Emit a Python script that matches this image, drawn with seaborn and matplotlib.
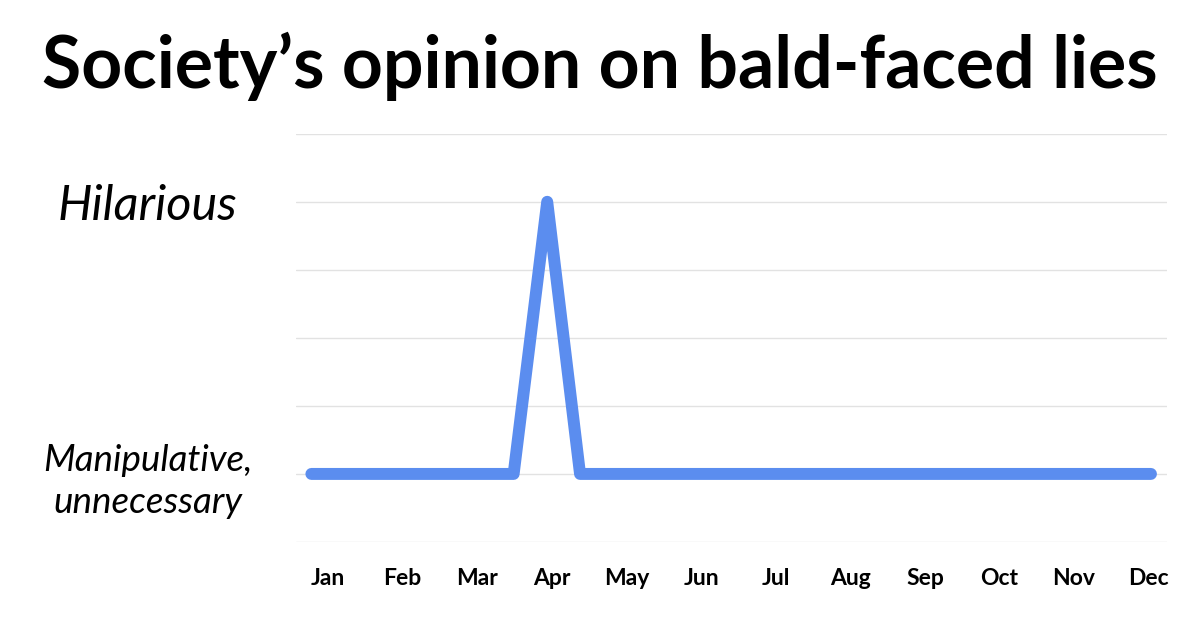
import numpy as np
import pandas as pd
import matplotlib.pyplot as plt
import seaborn as sns

# data
months = ["Jan", "Feb", "Mar", "Apr", "May", "Jun", "Jul", "Aug", "Sep", "Oct", "Nov", "Dec"]
x_pos = [0, 1, 2, 2.65, 3.09, 3.52, 4, 5, 6, 7, 8, 9, 10, 11]
opinion = [1, 1, 1, 1, 5, 1, 1, 1, 1, 1, 1, 1, 1, 1]
level_labels = ["", "Manipulative,\nunnecessary", "", "", "", "Hilarious", ""]

df = pd.DataFrame({"x": x_pos, "opinion": opinion})

sns.set_theme(style="whitegrid")
plt.rcParams['font.family'] = ['Lato', 'DejaVu Sans']
plt.rcParams['text.color'] = 'black'
plt.rcParams['xtick.color'] = 'black'
plt.rcParams['ytick.color'] = 'black'

fig = plt.figure(figsize=(12, 6.28), dpi=100)
ax = fig.add_axes([0.247, 0.137, 0.9725 - 0.247, 0.787 - 0.137])

sns.lineplot(data=df, x="x", y="opinion", ax=ax, color="#5b8def", lw=8.6,
             solid_capstyle="round", solid_joinstyle="round")

ax.set_xlim(-0.196, 11.21)
ax.set_ylim(0, 6)
ax.set_xlabel("")
ax.set_ylabel("")

ax.set_xticks(np.linspace(0.22, 10.97, 12))
ax.set_xticklabels(months, fontsize=16.5, fontweight="bold", color="black")
ax.tick_params(axis="x", length=0, pad=19)
ax.xaxis.grid(False)

ax.set_yticks(range(7))
ax.set_yticklabels(level_labels, color="black")
ax.tick_params(axis="y", length=0, pad=107)
for lab in ax.get_yticklabels():
    lab.set_ha("center")
    lab.set_style("italic")
    lab.set_multialignment("center")
    lab.set_linespacing(1.35)
    lab.set_fontsize(35 if lab.get_text() == "Hilarious" else 26.5)

ax.yaxis.grid(True, color="#e2e2e2", lw=1)
for s in ax.spines.values():
    s.set_visible(False)

fig.text(0.5, 0.895, "Society\u2019s opinion on bald-faced lies", ha="center", va="center",
         fontsize=51.5, fontweight="bold", color="black")

fig.savefig("out.png", dpi=100, facecolor="white")
